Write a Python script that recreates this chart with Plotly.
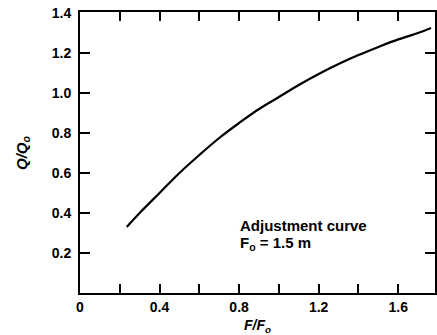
import plotly.graph_objects as go

# Data
f_ratio = [0.235, 0.3, 0.4, 0.5, 0.6, 0.7, 0.8, 0.9, 1.0, 1.1, 1.2, 1.3, 1.4, 1.5, 1.6, 1.7, 1.765]
q_ratio = [0.33, 0.40, 0.50, 0.60, 0.69, 0.775, 0.85, 0.92, 0.98, 1.04, 1.095, 1.145, 1.19, 1.23, 1.268, 1.30, 1.325]

x_tickvals = [0, 0.2, 0.4, 0.6, 0.8, 1.0, 1.2, 1.4, 1.6]
x_ticktext = ["0", "", "0.4", "", "0.8", "", "1.2", "", "1.6"]
y_tickvals = [0.2, 0.4, 0.6, 0.8, 1.0, 1.2, 1.4]
y_ticktext = ["0.2", "0.4", "0.6", "0.8", "1.0", "1.2", "1.4"]

FONT = "Liberation Sans, Arial, sans-serif"

fig = go.Figure()
fig.add_trace(go.Scatter(x=f_ratio, y=q_ratio, mode="lines",
                         line=dict(color="black", width=2.2, shape="spline"),
                         showlegend=False, hoverinfo="skip"))

fig.update_layout(
    width=437, height=335,
    margin=dict(l=80, r=0, t=12, b=42),
    paper_bgcolor="white", plot_bgcolor="white",
    font=dict(family=FONT, size=14, color="black"),
    xaxis=dict(range=[0, 1.785], tickvals=x_tickvals, ticktext=x_ticktext,
               ticks="inside", ticklen=9, tickwidth=2, tickcolor="black",
               showline=True, linewidth=2, linecolor="black", mirror="ticks",
               showgrid=False, zeroline=False,
               tickfont=dict(family=FONT, size=14, color="black", weight="bold")),
    yaxis=dict(range=[0, 1.405], tickvals=y_tickvals, ticktext=y_ticktext,
               ticks="inside", ticklen=10, tickwidth=2, tickcolor="black",
               showline=True, linewidth=2, linecolor="black", mirror="ticks",
               showgrid=False, zeroline=False, ticklabelstandoff=4,
               tickfont=dict(family=FONT, size=14, color="black", weight="bold")),
    annotations=[
        dict(text="<b><i>F/F<sub>o</sub></i></b>", xref="paper", yref="paper",
             x=0.5, y=-0.118, xanchor="center", yanchor="middle",
             showarrow=False, font=dict(family=FONT, size=14, color="black")),
        dict(text="<b><i>Q/Q<sub>o</sub></i></b>", xref="paper", yref="paper",
             x=-0.162, y=0.5, xanchor="center", yanchor="middle", textangle=-90,
             showarrow=False, font=dict(family=FONT, size=15, color="black")),
        dict(text="<b>Adjustment curve</b>", xref="x", yref="y",
             x=0.795, y=0.34, xanchor="left", yanchor="middle",
             showarrow=False, font=dict(family=FONT, size=15, color="black")),
        dict(text="<b>F<sub>o</sub> = 1.5 m</b>", xref="x", yref="y",
             x=0.795, y=0.25, xanchor="left", yanchor="middle",
             showarrow=False, font=dict(family=FONT, size=15, color="black")),
    ],
)

fig.write_html("out.html")
